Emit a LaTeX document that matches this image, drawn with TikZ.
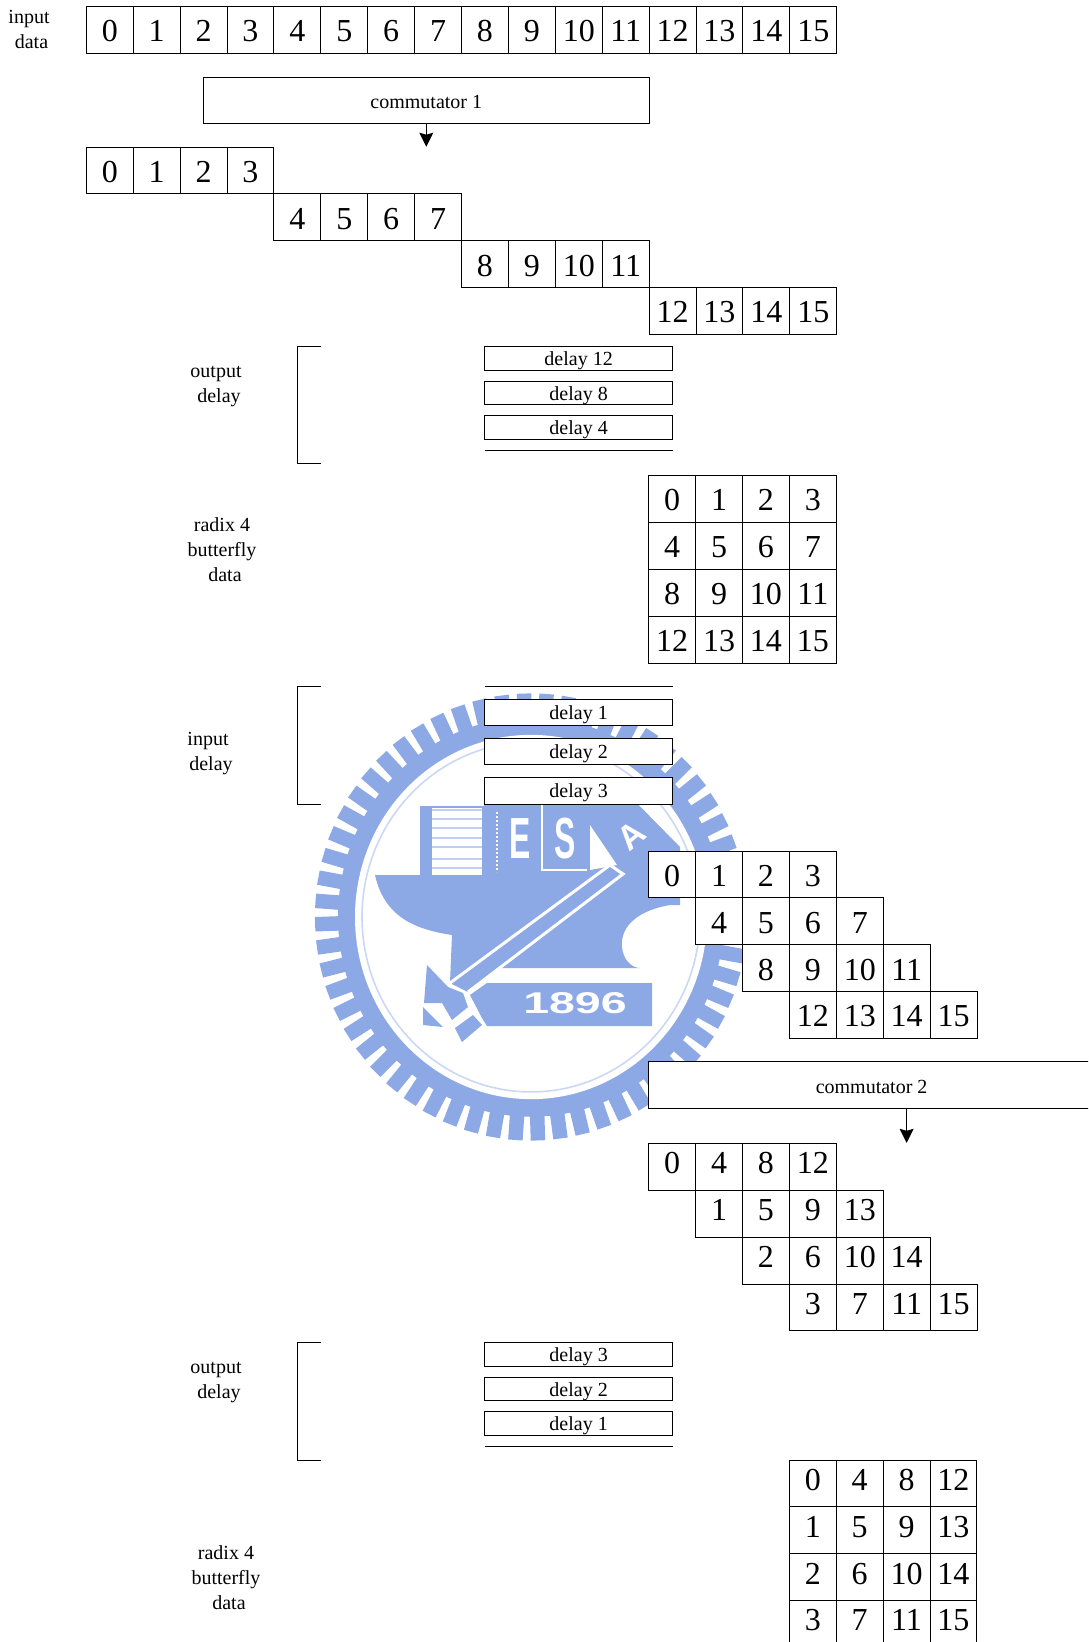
\documentclass[tikz,border=0pt]{standalone}
\usepackage{xcolor}
\usepackage{fontspec}
\setmainfont{Liberation Serif}
\newfontfamily\logofont{Liberation Sans}
\definecolor{logoblue}{RGB}{140, 168, 229}
\usetikzlibrary{arrows.meta, positioning}

\begin{document}
\begin{tikzpicture}[x=1pt, y=-1pt, line width=0.9pt]
  \tikzstyle{cell} = [rectangle, draw, fill=white, minimum size=46.9pt, inner sep=0pt, outer sep=0pt, text height=23.6pt, text depth=0pt, font=\fontsize{32}{36}\selectfont]
  \tikzstyle{upcell} = [cell, text height=13.6pt]
  \tikzstyle{delaybox} = [rectangle, draw, fill=white, minimum width=188pt, inner sep=0pt, outer sep=0pt, text height=14pt, text depth=0pt, font=\fontsize{20}{24}\selectfont]
  \tikzstyle{commbox} = [rectangle, draw, fill=white, minimum width=445.8pt, minimum height=46.7pt, inner sep=0pt, outer sep=0pt, text height=16pt, text depth=0pt, font=\fontsize{20}{24}\selectfont]
  \tikzstyle{label} = [align=center, inner sep=0pt, font=\fontsize{20}{25}\selectfont]
  \tikzstyle{arrow} = [-{Stealth[length=14pt,width=14pt,inset=2pt]}]
  \tikzstyle{logotext} = [white, inner sep=0pt, transform shape, font=\logofont\bfseries]

  \useasboundingbox (0,0) rectangle (1088,1642);
  \clip (0,0) rectangle (1088,1642);

  % watermark
  \begin{scope}[shift={(531,917)}, yscale=1.035]
    \fill [logoblue] (0,0) circle [radius=193];
    \foreach \ang in {0,6,...,354}
      \draw [logoblue, line width=14.5pt] (\ang+4.15:188) -- (\ang+4.15:216);
    \fill [white] (0,0) circle [radius=176];
    \draw [logoblue!45, line width=1.6pt] (0,0) circle [radius=169];
  \end{scope}

  \fill [logoblue] (375,875) -- (420,875) -- (420,806) -- (484,806) -- (484,800) -- (620,786)
    -- (680,847) -- (680,905) -- (670,905) .. controls (640,910) and (620,925) .. (622,947)
    .. controls (623,960) and (632,968) .. (640,968) -- (500,968) -- (468,992) -- (450,983)
    -- (452,935) .. controls (420,930) and (385,920) .. (375,875) -- cycle;
  \fill [white] (432,808) rectangle (482,875);
  \foreach \yy in {810,819,828,838,847,859,868}
    \draw [logoblue!55, line width=2.5pt] (432,\yy) -- (482,\yy);
  \draw [white, line width=2pt, dotted] (497,812) -- (497,872);
  \draw [white, line width=2pt] (542,800) -- (542,870) -- (587,870);
  \fill [white] (590,825) -- (617,865) -- (590,870) -- cycle;
  \draw [white, line width=3pt] (450,983) -- (610,865) -- (623,874) -- (468,992);
  \fill [logoblue] (427,965) -- (448,987) -- (463,993) -- (468,1007) -- (452,1020) -- (442,1003) -- (424,1003) -- cycle;
  \fill [logoblue] (423,1007) -- (443,1027) -- (423,1025) -- cycle;
  \fill [logoblue] (455,1028) -- (473,1015) -- (482,1025) -- (462,1042) -- cycle;
  \fill [logoblue] (487,983) -- (652,983) -- (652,1026) -- (487,1026) -- (482,1018) -- (470,995) -- cycle;

  \node [logotext, xscale=0.55, font=\logofont\bfseries\fontsize{58}{58}\selectfont] (logoe) at (520,839) {E};
  \node [logotext, xscale=0.55, font=\logofont\bfseries\fontsize{58}{58}\selectfont] (logos) at (565,839) {S};
  \node [logotext, rotate=40, font=\logofont\bfseries\fontsize{34}{34}\selectfont] (logoa) at (631,836) {A};
  \node [logotext, xscale=1.55, font=\logofont\bfseries\fontsize{30}{30}\selectfont] (logoyear) at (575,1003) {1896};

  % input data
  \node [label] (inlabel) at (29,29.5) {input\\\hspace{5pt}data};
  \node [cell, anchor=north west] (a0) at (86.3,6.7) {0};
  \node [cell, right=0pt of a0] (a1) {1};
  \node [cell, right=0pt of a1] (a2) {2};
  \node [cell, right=0pt of a2] (a3) {3};
  \node [cell, right=0pt of a3] (a4) {4};
  \node [cell, right=0pt of a4] (a5) {5};
  \node [cell, right=0pt of a5] (a6) {6};
  \node [cell, right=0pt of a6] (a7) {7};
  \node [cell, right=0pt of a7] (a8) {8};
  \node [cell, right=0pt of a8] (a9) {9};
  \node [cell, right=0pt of a9] (a10) {10};
  \node [cell, right=0pt of a10] (a11) {11};
  \node [cell, right=0pt of a11] (a12) {12};
  \node [cell, right=0pt of a12] (a13) {13};
  \node [cell, right=0pt of a13] (a14) {14};
  \node [cell, right=0pt of a14] (a15) {15};

  % commutator 1
  \node [commbox, anchor=north west] (comm1) at (203.4,77) {commutator 1};
  \coordinate [below=23pt of comm1] (comm1out);
  \draw [arrow] (comm1) -- (comm1out);

  \node [cell, anchor=north west] (b0) at (86.3,147) {0};
  \node [cell, right=0pt of b0] (b1) {1};
  \node [cell, right=0pt of b1] (b2) {2};
  \node [cell, right=0pt of b2] (b3) {3};
  \node [cell, below right=0pt and 0pt of b3] (b4) {4};
  \node [cell, right=0pt of b4] (b5) {5};
  \node [cell, right=0pt of b5] (b6) {6};
  \node [cell, right=0pt of b6] (b7) {7};
  \node [cell, below right=0pt and 0pt of b7] (b8) {8};
  \node [cell, right=0pt of b8] (b9) {9};
  \node [cell, right=0pt of b9] (b10) {10};
  \node [cell, right=0pt of b10] (b11) {11};
  \node [cell, below right=0pt and 0pt of b11] (b12) {12};
  \node [cell, right=0pt of b12] (b13) {13};
  \node [cell, right=0pt of b13] (b14) {14};
  \node [cell, right=0pt of b14] (b15) {15};

  % output delay
  \node [label] (outlabel1) at (216,387) {output\\\hspace{6pt}delay};
  \draw (321,346.7) -- (297.5,346.7) -- (297.5,463.7) -- (321,463.7);
  \node [delaybox, minimum height=23.6pt, anchor=north west] (del12) at (484.6,346.7) {delay 12};
  \node [delaybox, minimum height=23.6pt, below=11pt of del12] (del8) {delay 8};
  \node [delaybox, minimum height=23.6pt, below=11pt of del8] (del4) {delay 4};
  \draw (del4.south west) ++(0,11.4) -- ++(188,0);

  % radix 4 butterfly data
  \node [label] (radlabel1) at (222,550) {radix 4\\butterfly\\\hspace{6pt}data};
  \node [cell, anchor=north west] (c0) at (648.7,475.4) {0};
  \node [cell, right=0pt of c0] (c1) {1};
  \node [cell, right=0pt of c1] (c2) {2};
  \node [cell, right=0pt of c2] (c3) {3};
  \node [cell, below=0pt of c0] (c4) {4};
  \node [cell, right=0pt of c4] (c5) {5};
  \node [cell, right=0pt of c5] (c6) {6};
  \node [cell, right=0pt of c6] (c7) {7};
  \node [cell, below=0pt of c4] (c8) {8};
  \node [cell, right=0pt of c8] (c9) {9};
  \node [cell, right=0pt of c9] (c10) {10};
  \node [cell, right=0pt of c10] (c11) {11};
  \node [cell, below=0pt of c8] (c12) {12};
  \node [cell, right=0pt of c12] (c13) {13};
  \node [cell, right=0pt of c13] (c14) {14};
  \node [cell, right=0pt of c14] (c15) {15};

  % input delay
  \node [label] (inlabel2) at (208,753.5) {input\\\hspace{6pt}delay};
  \draw (321,686.7) -- (297.5,686.7) -- (297.5,804) -- (321,804);
  \node [delaybox, minimum height=26.2pt, anchor=north west] (del1) at (484.6,699) {delay 1};
  \node [delaybox, minimum height=26.2pt, below=13.2pt of del1] (del2) {delay 2};
  \node [delaybox, minimum height=26.2pt, below=13.2pt of del2] (del3) {delay 3};
  \draw (del1.north west) ++(0,-12.3) -- ++(188,0);

  \node [cell, anchor=north west] (d0) at (648.7,851) {0};
  \node [cell, right=0pt of d0] (d1) {1};
  \node [cell, right=0pt of d1] (d2) {2};
  \node [cell, right=0pt of d2] (d3) {3};
  \node [cell, below=0pt of d1] (d4) {4};
  \node [cell, right=0pt of d4] (d5) {5};
  \node [cell, right=0pt of d5] (d6) {6};
  \node [cell, right=0pt of d6] (d7) {7};
  \node [cell, below=0pt of d5] (d8) {8};
  \node [cell, right=0pt of d8] (d9) {9};
  \node [cell, right=0pt of d9] (d10) {10};
  \node [cell, right=0pt of d10] (d11) {11};
  \node [cell, below=0pt of d9] (d12) {12};
  \node [cell, right=0pt of d12] (d13) {13};
  \node [cell, right=0pt of d13] (d14) {14};
  \node [cell, right=0pt of d14] (d15) {15};

  % commutator 2
  \node [commbox, anchor=north west] (comm2) at (648.7,1061.7) {commutator 2};
  \coordinate (comm2in) at ([xshift=35pt]comm2.south);
  \coordinate [below=34.4pt of comm2in] (comm2out);
  \draw [arrow] (comm2in) -- (comm2out);

  \node [upcell, anchor=north west] (e0) at (648.7,1143.3) {0};
  \node [upcell, right=0pt of e0] (e4) {4};
  \node [upcell, right=0pt of e4] (e8) {8};
  \node [upcell, right=0pt of e8] (e12) {12};
  \node [upcell, below=0pt of e4] (e1) {1};
  \node [upcell, right=0pt of e1] (e5) {5};
  \node [upcell, right=0pt of e5] (e9) {9};
  \node [upcell, right=0pt of e9] (e13) {13};
  \node [upcell, below=0pt of e5] (e2) {2};
  \node [upcell, right=0pt of e2] (e6) {6};
  \node [upcell, right=0pt of e6] (e10) {10};
  \node [upcell, right=0pt of e10] (e14) {14};
  \node [upcell, below=0pt of e6] (e3) {3};
  \node [upcell, right=0pt of e3] (e7) {7};
  \node [upcell, right=0pt of e7] (e11) {11};
  \node [upcell, right=0pt of e11] (e15) {15};

  % output delay, second pass
  \node [label] (outlabel2) at (216,1383) {output\\\hspace{6pt}delay};
  \draw (321,1342.7) -- (297.5,1342.7) -- (297.5,1460) -- (321,1460);
  \node [delaybox, minimum height=23.6pt, anchor=north west] (del3b) at (484.6,1342.7) {delay 3};
  \node [delaybox, minimum height=23.6pt, below=11pt of del3b] (del2b) {delay 2};
  \node [delaybox, minimum height=23.6pt, below=11pt of del2b] (del1b) {delay 1};
  \draw (del1b.south west) ++(0,11) -- ++(188,0);

  % radix 4 butterfly data, second pass
  \node [label] (radlabel2) at (226,1578) {radix 4\\butterfly\\\hspace{6pt}data};
  \node [upcell, anchor=north west] (f0) at (789.3,1460) {0};
  \node [upcell, right=0pt of f0] (f4) {4};
  \node [upcell, right=0pt of f4] (f8) {8};
  \node [upcell, right=0pt of f8] (f12) {12};
  \node [upcell, below=0pt of f0] (f1) {1};
  \node [upcell, right=0pt of f1] (f5) {5};
  \node [upcell, right=0pt of f5] (f9) {9};
  \node [upcell, right=0pt of f9] (f13) {13};
  \node [upcell, below=0pt of f1] (f2) {2};
  \node [upcell, right=0pt of f2] (f6) {6};
  \node [upcell, right=0pt of f6] (f10) {10};
  \node [upcell, right=0pt of f10] (f14) {14};
  \node [upcell, below=0pt of f2] (f3) {3};
  \node [upcell, right=0pt of f3] (f7) {7};
  \node [upcell, right=0pt of f7] (f11) {11};
  \node [upcell, right=0pt of f11] (f15) {15};
\end{tikzpicture}
\end{document}
